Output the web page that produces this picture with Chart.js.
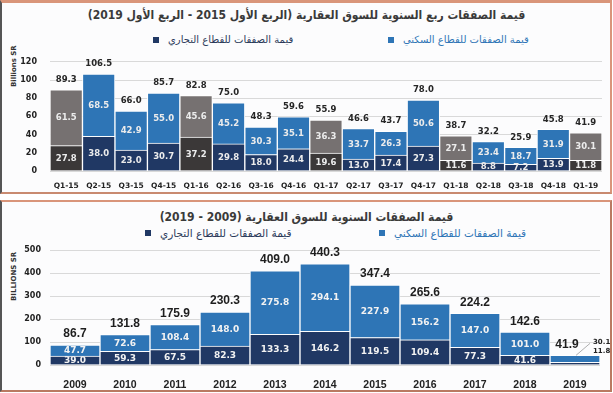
<!DOCTYPE html>
<html>
<head>
<meta charset="utf-8">
<script src="https://cdn.jsdelivr.net/npm/chart.js@4.4.1/dist/chart.umd.min.js"></script>
<style>
  body { margin: 0; width: 613px; height: 393px; background: #fff; position: relative; overflow: hidden; font-family: "DejaVu Sans", sans-serif; }
  .panel { position: absolute; left: 0; width: 612px; box-sizing: border-box; background: #fcfcfd; }
  #p1 { top: 0; height: 194px; border-top: 3px solid #d9957a; border-bottom: 2px solid #c98a70; border-left: 2px solid #555; border-right: 2px solid #d9957a; }
  #p2 { top: 200px; height: 192px; border-top: 2px solid #d9957a; border-bottom: 2px solid #b97a62; border-left: 2px solid #555; border-right: 2px solid #b97a62; }
  .title { position: absolute; left: 0; width: 613px; text-align: center; font-weight: bold; color: #3a3a3a; white-space: nowrap; font-family: "DejaVu Sans Condensed", "DejaVu Sans", sans-serif; }
  .leg { position: absolute; display: flex; align-items: center; white-space: nowrap; }
  .leg i { display: inline-block; width: 6px; height: 6px; margin-right: 9px; }
  .leg span { direction: rtl; }
  .ytitle { position: absolute; font-weight: bold; color: #333; white-space: nowrap; transform-origin: center; }
  canvas { position: absolute; left: 0; }
</style>
</head>
<body>
<div class="panel" id="p1"></div>
<div class="panel" id="p2"></div>

<div class="title" dir="rtl" style="top:6px; font-size:12px; line-height:18px;">قيمة الصفقات ربع السنوية للسوق العقارية (الربع الأول 2015 - الربع الأول 2019)</div>
<div class="leg" style="left:153px; top:34px; font-size:10px; color:#2b3a5a;"><i style="background:#203864"></i><span>قيمة الصفقات للقطاع التجاري</span></div>
<div class="leg" style="left:388px; top:34px; font-size:10px; color:#2e75b6;"><i style="background:#2e75b6"></i><span>قيمة الصفقات للقطاع السكني</span></div>
<div class="ytitle" style="left:-6px; top:63px; width:40px; font-size:7px; transform:rotate(-90deg); text-align:center;">Billions SR</div>

<div class="title" dir="rtl" style="top:208px; font-size:12px; line-height:18px;">قيمة الصفقات السنوية للسوق العقارية (2009 - 2019)</div>
<div class="leg" style="left:145px; top:227px; font-size:10.5px; color:#2b3a5a;"><i style="background:#203864"></i><span>قيمة الصفقات للقطاع التجاري</span></div>
<div class="leg" style="left:379px; top:227px; font-size:10.5px; color:#2e75b6;"><i style="background:#2e75b6"></i><span>قيمة الصفقات للقطاع السكني</span></div>
<div class="ytitle" style="left:-8px; top:275px; width:44px; font-size:7px; transform:rotate(-90deg); text-align:center;">BILLIONS SR</div>

<canvas id="quarterChart" width="613" height="148" style="top:44px"></canvas>
<canvas id="yearChart" width="613" height="154" style="top:236px"></canvas>

<script>
// quarterly data (billions SR)
const quarters = ['Q1-15', 'Q2-15', 'Q3-15', 'Q4-15', 'Q1-16', 'Q2-16', 'Q3-16', 'Q4-16', 'Q1-17',
  'Q2-17', 'Q3-17', 'Q4-17', 'Q1-18', 'Q2-18', 'Q3-18', 'Q4-18', 'Q1-19'];
const qCommercial = [27.8, 38.0, 23.0, 30.7, 37.2, 29.8, 18.0, 24.4, 19.6, 13.0, 17.4, 27.3, 11.6, 8.8, 7.2, 13.9, 11.8];
const qResidential = [61.5, 68.5, 42.9, 55.0, 45.6, 45.2, 30.3, 35.1, 36.3, 33.7, 26.3, 50.6, 27.1, 23.4, 18.7, 31.9, 30.1];
const qTotals = [89.3, 106.5, 66.0, 85.7, 82.8, 75.0, 48.3, 59.6, 55.9, 46.6, 43.7, 78.0, 38.7, 32.2, 25.9, 45.8, 41.9];
const qAxisTicks = [0, 20, 40, 60, 80, 100, 120];

// yearly data (billions SR)
const years = ['2009', '2010', '2011', '2012', '2013', '2014', '2015', '2016', '2017', '2018', '2019'];
const yCommercial = [39.0, 59.3, 67.5, 82.3, 133.3, 146.2, 119.5, 109.4, 77.3, 41.6, 11.8];
const yResidential = [47.7, 72.6, 108.4, 148.0, 275.8, 294.1, 227.9, 156.2, 147.0, 101.0, 30.1];
const yTotals = [86.7, 131.8, 175.9, 230.3, 409.0, 440.3, 347.4, 265.6, 224.2, 142.6, 41.9];
const yAxisTicks = [0, 100, 200, 300, 400, 500];

const NAVY = '#203864', BLUE = '#2e75b6', DARKGRAY = '#3b3838', GRAY = '#767171';

// draws the segment values, the totals on top, and a callout for bars too short to hold text
const valueLabels = {
  id: 'valueLabels',
  afterDatasetsDraw(chart, args, opts) {
    const ctx = chart.ctx;
    const metas = chart.data.datasets.map((d, i) => chart.getDatasetMeta(i));
    const topMeta = metas[metas.length - 1];
    ctx.save();
    ctx.textAlign = 'center';
    ctx.textBaseline = 'middle';
    topMeta.data.forEach((el, i) => {
      const top = el.getProps(['x', 'y'], true);
      const base = metas[0].data[i].getProps(['base'], true).base;
      const small = base - top.y < opts.minInside;
      if (!small) {
        ctx.font = opts.innerFont;
        ctx.fillStyle = opts.innerColor;
        metas.forEach((meta, di) => {
          const bar = meta.data[i].getProps(['x', 'y', 'base'], true);
          const v = chart.data.datasets[di].data[i];
          ctx.fillText(v.toFixed(1), bar.x, (bar.y + bar.base) / 2 + 0.5);
        });
      } else {
        ctx.strokeStyle = '#9a9a9a';
        ctx.lineWidth = 0.8;
        ctx.beginPath();
        ctx.moveTo(top.x + 1, top.y);
        ctx.lineTo(top.x + 15, top.y - 12);
        ctx.stroke();
        ctx.font = opts.calloutFont;
        ctx.fillStyle = '#222';
        ctx.textAlign = 'left';
        for (let di = metas.length - 1, row = 0; di >= 0; di--, row++) {
          ctx.fillText(chart.data.datasets[di].data[i].toFixed(1), top.x + 18, top.y - 13 + row * 9);
        }
        ctx.textAlign = 'center';
      }
      ctx.font = opts.totalFont;
      ctx.fillStyle = opts.totalColor;
      ctx.fillText(opts.totals[i].toFixed(1), top.x + (small ? -8 : 0), top.y - opts.totalOffset);
    });
    ctx.restore();
  }
};

const makeScales = (ticks, yWidth, xHeight, tickFont, xFont, yPad, xPad) => ({
  x: {
    stacked: true,
    grid: { display: false },
    border: { display: false },
    ticks: { font: xFont, color: '#222', maxRotation: 0, autoSkip: false, padding: xPad },
    afterFit: s => { s.height = xHeight; }
  },
  y: {
    stacked: true,
    min: ticks[0],
    max: ticks[ticks.length - 1],
    grid: { color: '#d9d9d9', drawTicks: false },
    border: { display: false },
    ticks: { stepSize: ticks[1] - ticks[0], font: tickFont, color: '#222', padding: yPad },
    afterFit: s => { s.width = yWidth; }
  }
});

const baseOptions = {
  responsive: false,
  animation: false,
  devicePixelRatio: 1,
  events: []
};

// quarterly chart: first quarter of each year shown in grey
const isFirstQuarter = quarters.map(q => q.startsWith('Q1'));
new Chart(document.getElementById('quarterChart').getContext('2d'), {
  type: 'bar',
  data: {
    labels: quarters,
    datasets: [
      { label: 'قيمة الصفقات للقطاع التجاري', data: qCommercial,
        backgroundColor: isFirstQuarter.map(f => f ? DARKGRAY : NAVY) },
      { label: 'قيمة الصفقات للقطاع السكني', data: qResidential,
        backgroundColor: isFirstQuarter.map(f => f ? GRAY : BLUE) }
    ].map(d => Object.assign(d, { borderColor: 'rgba(255,255,255,0.95)', borderWidth: 1, barPercentage: 1, categoryPercentage: 1 }))
  },
  options: Object.assign({}, baseOptions, {
    layout: { padding: { top: 17, right: 11, left: 0, bottom: 0 } },
    scales: makeScales(qAxisTicks, 50, 21,
      { family: 'DejaVu Sans', size: 8, weight: 'bold' },
      { family: 'DejaVu Sans', size: 7.5, weight: 'bold' }, 13, 3),
    plugins: {
      legend: { display: false },
      tooltip: { enabled: false },
      valueLabels: {
        totals: qTotals, minInside: 10, totalOffset: 10,
        innerFont: 'bold 8.5px "DejaVu Sans"', innerColor: '#ececec',
        totalFont: 'bold 8.5px "DejaVu Sans"', totalColor: '#262626',
        calloutFont: 'bold 7px "DejaVu Sans"'
      }
    }
  }),
  plugins: [valueLabels]
});

// yearly chart
new Chart(document.getElementById('yearChart').getContext('2d'), {
  type: 'bar',
  data: {
    labels: years,
    datasets: [
      { label: 'قيمة الصفقات للقطاع التجاري', data: yCommercial, backgroundColor: NAVY },
      { label: 'قيمة الصفقات للقطاع السكني', data: yResidential, backgroundColor: BLUE }
    ].map(d => Object.assign(d, { borderColor: 'rgba(255,255,255,0.95)', borderWidth: 1, barPercentage: 1, categoryPercentage: 1 }))
  },
  options: Object.assign({}, baseOptions, {
    layout: { padding: { top: 14, right: 13, left: 0, bottom: 0 } },
    scales: makeScales(yAxisTicks, 50, 25,
      { family: 'DejaVu Sans', size: 8, weight: 'bold' },
      { family: 'Liberation Sans', size: 10.5, weight: 'bold' }, 9, 6),
    plugins: {
      legend: { display: false },
      tooltip: { enabled: false },
      valueLabels: {
        totals: yTotals, minInside: 14, totalOffset: 11,
        innerFont: 'bold 9px "DejaVu Sans"', innerColor: '#f2f2f2',
        totalFont: 'bold 12px "Liberation Sans"', totalColor: '#1e1e1e',
        calloutFont: 'bold 7px "DejaVu Sans"'
      }
    }
  }),
  plugins: [valueLabels]
});
</script>
</body>
</html>
